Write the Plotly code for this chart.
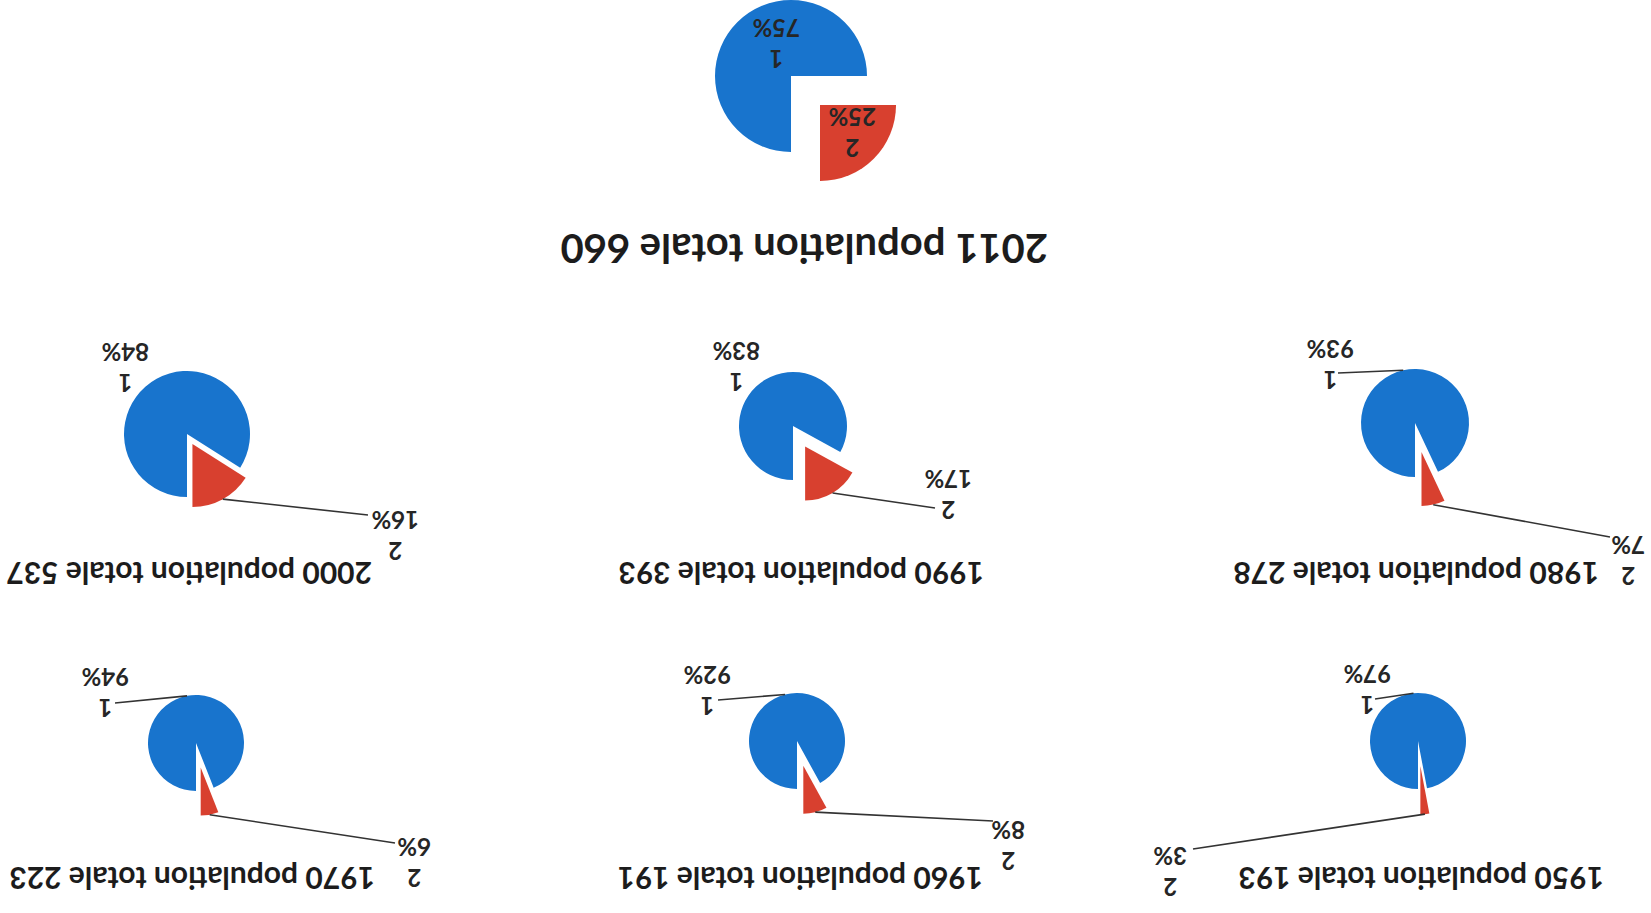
import math
import plotly.graph_objects as go

# ---------------- data ----------------
years = [1950, 1960, 1970, 1980, 1990, 2000, 2011]
totals = [193, 191, 223, 278, 393, 537, 660]
share_1 = [97, 92, 94, 93, 83, 84, 75]
share_2 = [3, 8, 6, 7, 17, 16, 25]
categories = ["1", "2"]
title_word_1 = "population"
title_word_2 = "totale"

# ---------------- layout / style ----------------
W, H = 1651, 913
BLUE = "#1874CD"
RED = "#D8402F"
TXT = "#262626"
FONT = "Lato"

# pixel geometry of each pie (center, radius, pull) and label placement
geo = {
    1950: dict(c=(1418, 741), r=48, pull=0.53, lab1=(1367, 690), end1=(1375, 699),
               lab2=(1170, 872), end2=(1193, 849), title=(1421, 879), tsize=30),
    1960: dict(c=(797, 741), r=48, pull=0.53, lab1=(707, 691), end1=(718, 700),
               lab2=(1008, 846), end2=(993, 821), title=(800, 879), tsize=30),
    1970: dict(c=(196, 743), r=48, pull=0.52, lab1=(105, 693), end1=(115, 703),
               lab2=(414, 863), end2=(395, 843), title=(192, 879), tsize=30),
    1980: dict(c=(1415, 423), r=54, pull=0.55, lab1=(1330, 365), end1=(1338, 373),
               lab2=(1628, 561), end2=(1610, 537), title=(1416, 574), tsize=30),
    1990: dict(c=(793, 426), r=54, pull=0.44, lab1=(736, 367), end1=None,
               lab2=(948, 495), end2=(935, 508), title=(801, 574), tsize=30),
    2000: dict(c=(187, 434), r=63, pull=0.18, lab1=(125, 368), end1=None,
               lab2=(395, 536), end2=(368, 515), title=(189, 574), tsize=30),
    2011: dict(c=(791, 76), r=76, pull=0.54, lab1=(776, 44), end1=None,
               lab2=(852, 133), end2=None, title=(804, 249), tsize=40, split=True),
}


def px(x, y):
    return x / W, 1 - y / H


def domain(cx, cy, half):
    return dict(x=[(cx - half) / W, (cx + half) / W],
                y=[1 - (cy + half) / H, 1 - (cy - half) / H])


def direction(theta_deg):
    t = math.radians(theta_deg)
    return math.sin(t), -math.cos(t)  # screen coords (y down), clockwise from 12h


fig = go.Figure()
annotations = []
shapes = []

for yr, tot, s1, s2 in zip(years, totals, share_1, share_2):
    g = geo[yr]
    cx, cy = g["c"]
    r = g["r"]
    pull = g["pull"]
    frac1 = s1 / (s1 + s2)
    frac2 = s2 / (s1 + s2)
    # bisector angles (rotation 180, clockwise)
    th1 = 180 + 360 * frac1 / 2
    th2 = 180 + 360 * (frac1 + frac2 / 2)
    d2 = direction(th2)
    common = dict(labels=categories, values=[s1, s2], sort=False, direction="clockwise",
                  rotation=180, textinfo="none", hoverinfo="label+percent",
                  showlegend=False, marker_line_width=0)
    if g.get("split"):
        fig.add_trace(go.Pie(**common, marker_colors=[BLUE, "rgba(0,0,0,0)"],
                             domain=domain(cx, cy, r)))
        ox, oy = cx + pull * r * d2[0], cy + pull * r * d2[1]
        fig.add_trace(go.Pie(**common, marker_colors=["rgba(0,0,0,0)", RED],
                             domain=domain(ox, oy, r)))
    else:
        fig.add_trace(go.Pie(**common, marker_colors=[BLUE, RED], pull=[0, pull],
                             domain=domain(cx, cy, r * (1 + pull))))

    # labels (upside down, like the reference)
    for lab, txt in ((g["lab1"], f"{categories[0]}<br>{s1}%"),
                     (g["lab2"], f"{categories[1]}<br>{s2}%")):
        x, y = px(*lab)
        annotations.append(dict(x=x, y=y, xref="paper", yref="paper", text=txt,
                                showarrow=False, textangle=180, xanchor="center",
                                yanchor="middle", align="center",
                                font=dict(family=FONT, size=24, color=TXT, weight="bold")))
    # leader lines from the slice bisector on the outer arc
    if g["end1"]:
        d1 = direction(th1)
        sx, sy = cx + r * d1[0], cy + r * d1[1]
        x0, y0 = px(sx, sy)
        x1, y1 = px(*g["end1"])
        shapes.append(dict(type="line", xref="paper", yref="paper", x0=x0, y0=y0,
                           x1=x1, y1=y1, line=dict(color="#333333", width=1.6)))
    if g["end2"]:
        sx, sy = cx + (1 + pull) * r * d2[0], cy + (1 + pull) * r * d2[1]
        x0, y0 = px(sx, sy)
        x1, y1 = px(*g["end2"])
        shapes.append(dict(type="line", xref="paper", yref="paper", x0=x0, y0=y0,
                           x1=x1, y1=y1, line=dict(color="#333333", width=1.6)))

    # title
    tx, ty = px(*g["title"])
    annotations.append(dict(x=tx, y=ty, xref="paper", yref="paper",
                            text=f"{yr} {title_word_1} {title_word_2} {tot}",
                            showarrow=False, textangle=180, xanchor="center",
                            yanchor="middle",
                            font=dict(family=FONT, size=g["tsize"], color="#1c1c1c",
                                      weight="bold")))

fig.update_layout(width=W, height=H, margin=dict(l=0, r=0, t=0, b=0),
                  paper_bgcolor="white", plot_bgcolor="white",
                  annotations=annotations, shapes=shapes)

fig.write_html("out.html", config={"displayModeBar": False},
               post_script="document.body.style.margin='0';document.body.style.overflow='hidden';")
